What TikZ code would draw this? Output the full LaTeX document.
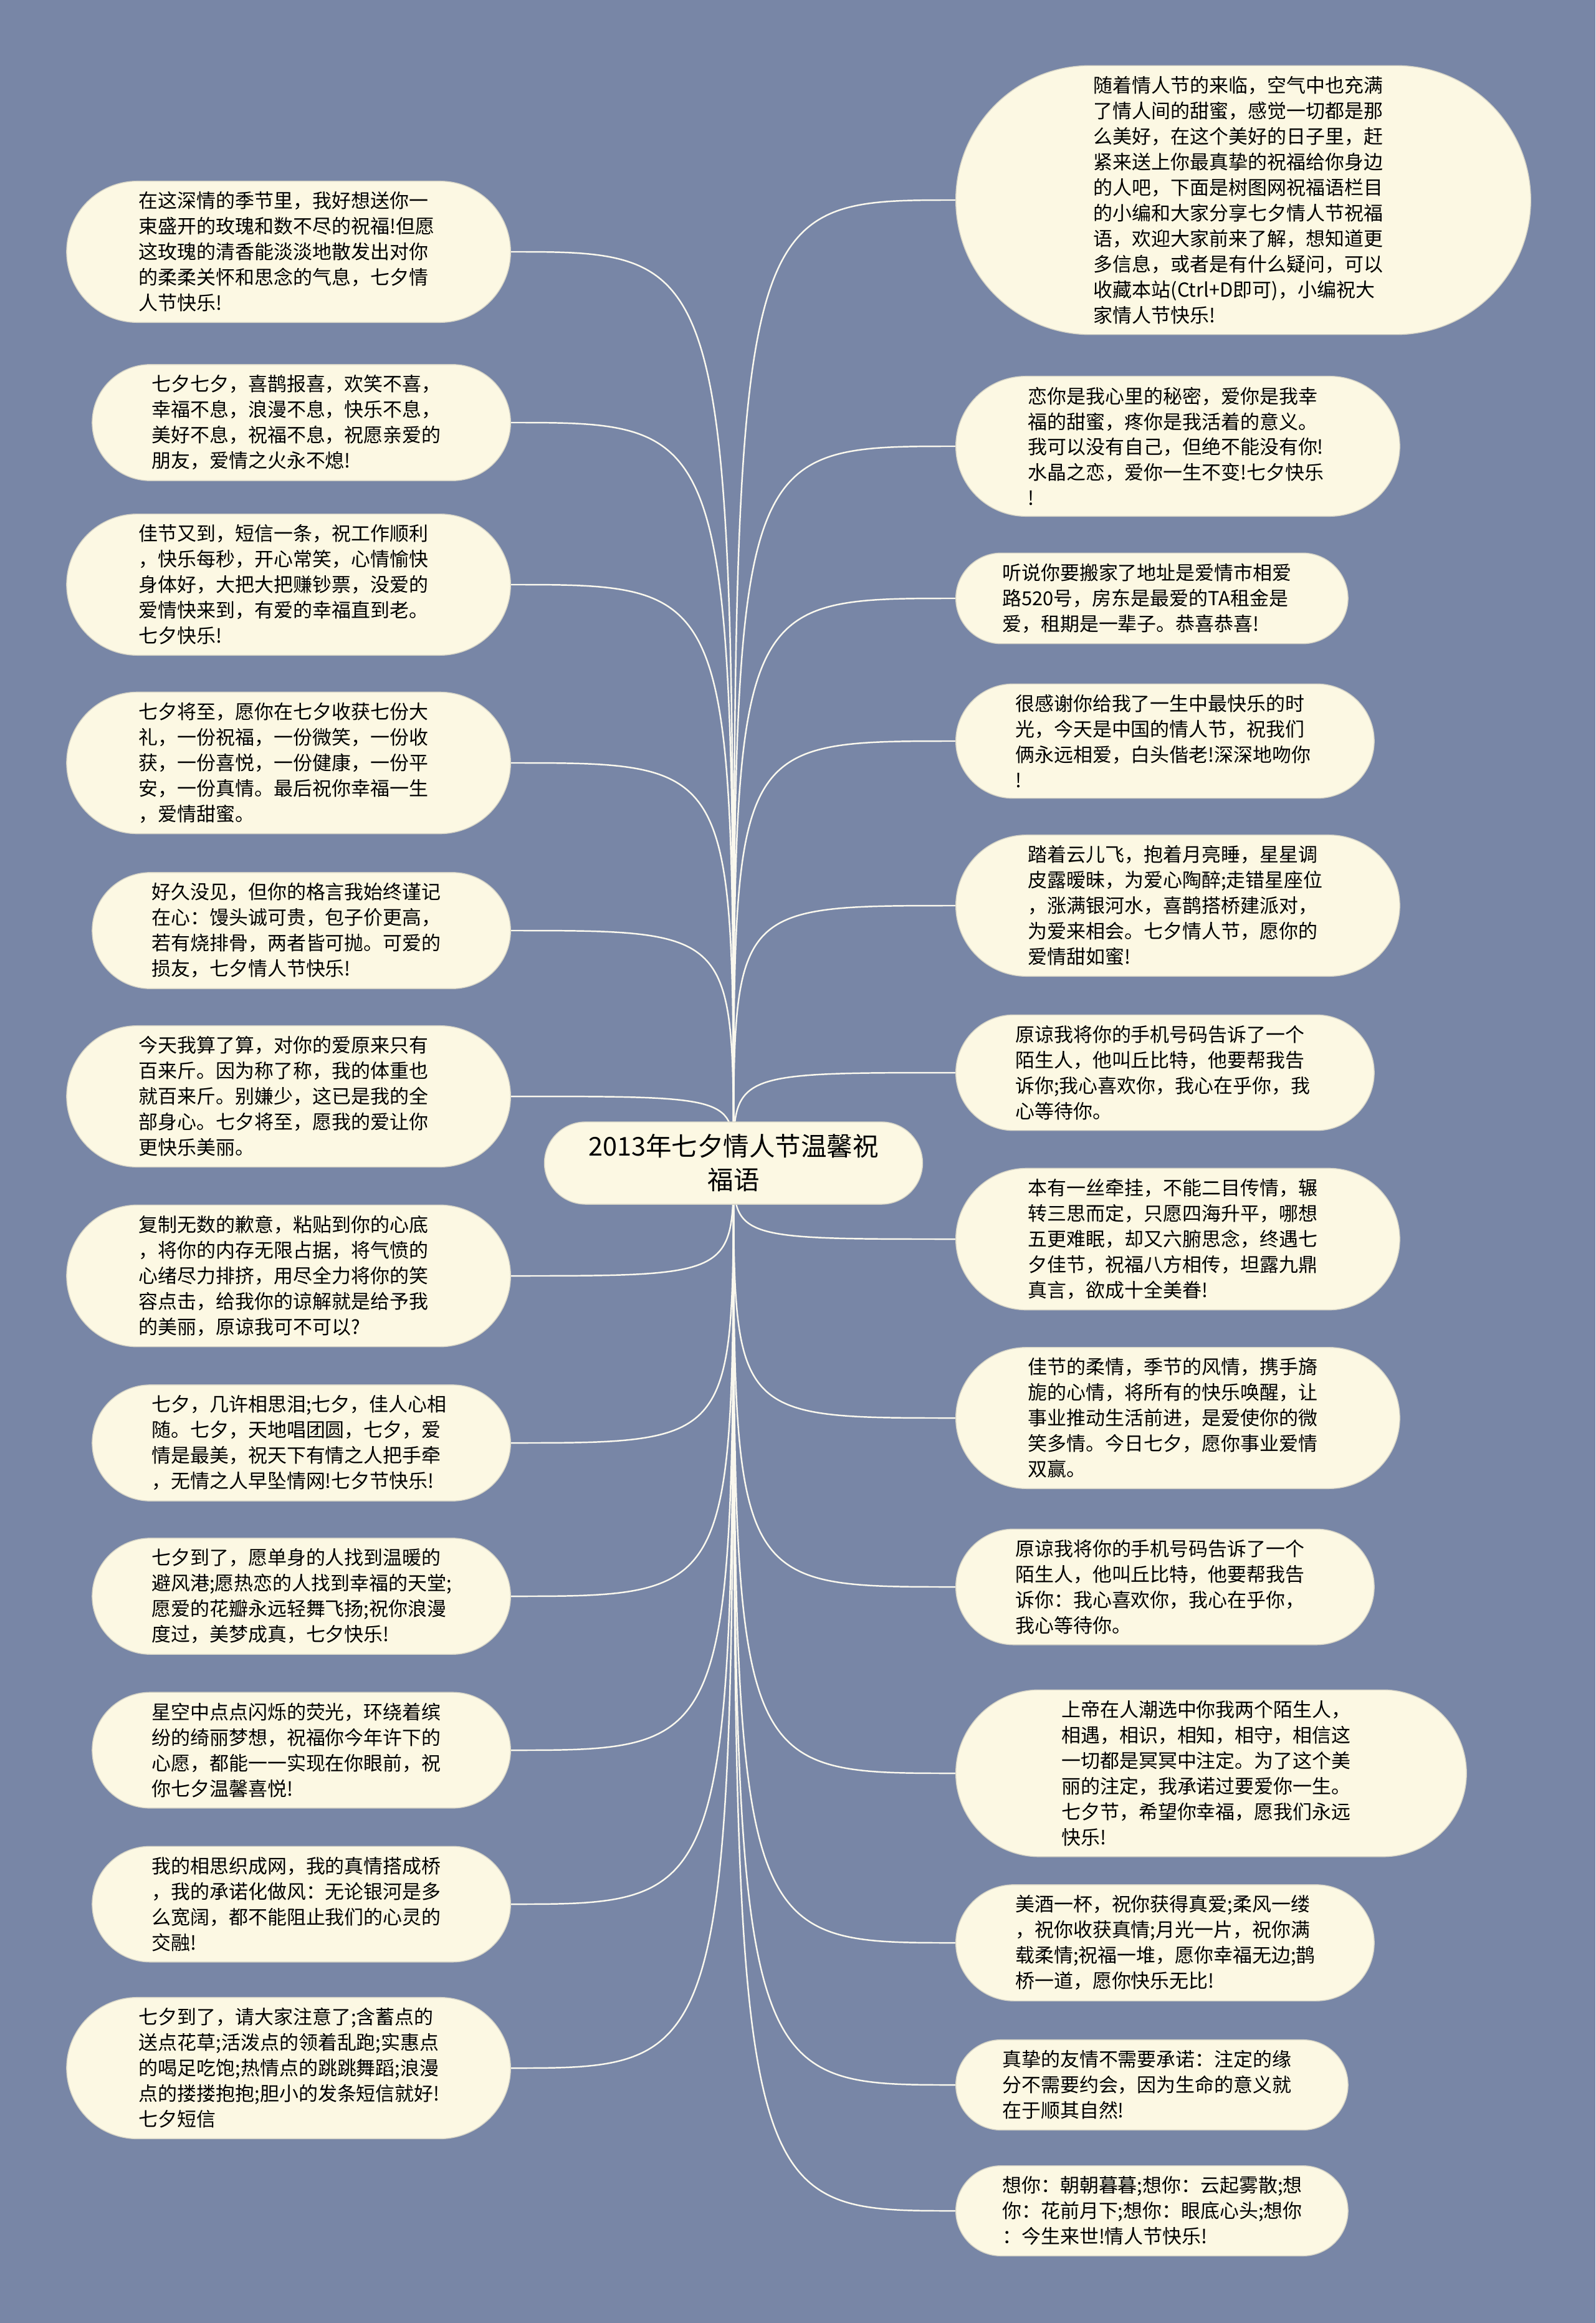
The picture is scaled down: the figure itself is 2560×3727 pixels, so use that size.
\documentclass[tikz,border=0pt]{standalone}
\usepackage{fontspec}
\setmainfont{Noto Sans CJK SC}
\usetikzlibrary{shapes.misc,backgrounds}
\definecolor{bgblue}{RGB}{120,134,166}
\definecolor{cardfill}{RGB}{252,248,227}
\definecolor{cardline}{RGB}{214,212,198}
\definecolor{linkline}{RGB}{250,248,238}

\begin{document}
\begin{tikzpicture}[x=0.01cm, y=-0.01cm,
    card/.style={rounded rectangle, fill=cardfill, draw=cardline, line width=0.4pt,
      text width=4.8cm, align=left, inner xsep=0.03cm, inner ysep=0.17cm,
      minimum width=#1, font=\fontsize{8.8pt}{11.65pt}\selectfont},
    leftcard/.style={card=#1, anchor=east},
    rightcard/.style={card=#1, anchor=west},
    titlecard/.style={rounded rectangle, fill=cardfill, draw=cardline, line width=0.4pt,
      text width=4.8cm, align=center, minimum width=6.3cm, minimum height=1.32cm,
      font=\fontsize{11.8pt}{15.4pt}\selectfont},
    link/.style={draw=linkline, line width=0.7pt}]
		\def\lx{820}   % right edge of the left column
		\def\rx{1533}  % left edge of the right column
		
		% --- centre ---
		\node[titlecard] (title) at (1177,1866) {2013年七夕情人节温馨祝\\福语};
		
		% --- left column ---
		\node[leftcard=7.18cm] (l1) at (\lx,404) {在这深情的季节里，我好想送你一\\束盛开的玫瑰和数不尽的祝福!但愿\\这玫瑰的清香能淡淡地散发出对你\\的柔柔关怀和思念的气息，七夕情\\人节快乐!};
		\node[leftcard=6.77cm] (l2) at (\lx,678) {七夕七夕，喜鹊报喜，欢笑不喜，\\幸福不息，浪漫不息，快乐不息，\\美好不息，祝福不息，祝愿亲爱的\\朋友，爱情之火永不熄!};
		\node[leftcard=7.18cm] (l3) at (\lx,938) {佳节又到，短信一条，祝工作顺利\\，快乐每秒，开心常笑，心情愉快\\身体好，大把大把赚钞票，没爱的\\爱情快来到，有爱的幸福直到老。\\七夕快乐!};
		\node[leftcard=7.18cm] (l4) at (\lx,1224) {七夕将至，愿你在七夕收获七份大\\礼，一份祝福，一份微笑，一份收\\获，一份喜悦，一份健康，一份平\\安，一份真情。最后祝你幸福一生\\，爱情甜蜜。};
		\node[leftcard=6.77cm] (l5) at (\lx,1493) {好久没见，但你的格言我始终谨记\\在心：馒头诚可贵，包子价更高，\\若有烧排骨，两者皆可抛。可爱的\\损友，七夕情人节快乐!};
		\node[leftcard=7.18cm] (l6) at (\lx,1759) {今天我算了算，对你的爱原来只有\\百来斤。因为称了称，我的体重也\\就百来斤。别嫌少，这已是我的全\\部身心。七夕将至，愿我的爱让你\\更快乐美丽。};
		\node[leftcard=7.18cm] (l7) at (\lx,2047) {复制无数的歉意，粘贴到你的心底\\，将你的内存无限占据，将气愤的\\心绪尽力排挤，用尽全力将你的笑\\容点击，给我你的谅解就是给予我\\的美丽，原谅我可不可以?};
		\node[leftcard=6.77cm] (l8) at (\lx,2315) {七夕，几许相思泪;七夕，佳人心相\\随。七夕，天地唱团圆，七夕，爱\\情是最美，祝天下有情之人把手牵\\，无情之人早坠情网!七夕节快乐!};
		\node[leftcard=6.77cm] (l9) at (\lx,2561) {七夕到了，愿单身的人找到温暖的\\避风港;愿热恋的人找到幸福的天堂;\\愿爱的花瓣永远轻舞飞扬;祝你浪漫\\度过，美梦成真，七夕快乐!};
		\node[leftcard=6.77cm] (l10) at (\lx,2808) {星空中点点闪烁的荧光，环绕着缤\\纷的绮丽梦想，祝福你今年许下的\\心愿，都能一一实现在你眼前，祝\\你七夕温馨喜悦!};
		\node[leftcard=6.77cm] (l11) at (\lx,3055) {我的相思织成网，我的真情搭成桥\\，我的承诺化做风：无论银河是多\\么宽阔，都不能阻止我们的心灵的\\交融!};
		\node[leftcard=7.18cm] (l12) at (\lx,3318) {七夕到了，请大家注意了;含蓄点的\\送点花草;活泼点的领着乱跑;实惠点\\的喝足吃饱;热情点的跳跳舞蹈;浪漫\\点的搂搂抱抱;胆小的发条短信就好!\\七夕短信};
		
		% --- right column ---
		\node[rightcard=9.28cm] (r1) at (\rx,321) {随着情人节的来临，空气中也充满\\了情人间的甜蜜，感觉一切都是那\\么美好，在这个美好的日子里，赶\\紧来送上你最真挚的祝福给你身边\\的人吧，下面是树图网祝福语栏目\\的小编和大家分享七夕情人节祝福\\语，欢迎大家前来了解，想知道更\\多信息，或者是有什么疑问，可以\\收藏本站(Ctrl+D即可)，小编祝大\\家情人节快乐!};
		\node[rightcard=7.18cm] (r2) at (\rx,716) {恋你是我心里的秘密，爱你是我幸\\福的甜蜜，疼你是我活着的意义。\\我可以没有自己，但绝不能没有你!\\水晶之恋，爱你一生不变!七夕快乐\\!};
		\node[rightcard=6.35cm] (r3) at (\rx,960) {听说你要搬家了地址是爱情市相爱\\路520号，房东是最爱的TA租金是\\爱，租期是一辈子。恭喜恭喜!};
		\node[rightcard=6.77cm] (r4) at (\rx,1189) {很感谢你给我了一生中最快乐的时\\光，今天是中国的情人节，祝我们\\俩永远相爱，白头偕老!深深地吻你\\!};
		\node[rightcard=7.18cm] (r5) at (\rx,1453) {踏着云儿飞，抱着月亮睡，星星调\\皮露暧昧，为爱心陶醉;走错星座位\\，涨满银河水，喜鹊搭桥建派对，\\为爱来相会。七夕情人节，愿你的\\爱情甜如蜜!};
		\node[rightcard=6.77cm] (r6) at (\rx,1721) {原谅我将你的手机号码告诉了一个\\陌生人，他叫丘比特，他要帮我告\\诉你;我心喜欢你，我心在乎你，我\\心等待你。};
		\node[rightcard=7.18cm] (r7) at (\rx,1988) {本有一丝牵挂，不能二目传情，辗\\转三思而定，只愿四海升平，哪想\\五更难眠，却又六腑思念，终遇七\\夕佳节，祝福八方相传，坦露九鼎\\真言，欲成十全美眷!};
		\node[rightcard=7.18cm] (r8) at (\rx,2275) {佳节的柔情，季节的风情，携手旖\\旎的心情，将所有的快乐唤醒，让\\事业推动生活前进，是爱使你的微\\笑多情。今日七夕，愿你事业爱情\\双赢。};
		\node[rightcard=6.77cm] (r9) at (\rx,2546) {原谅我将你的手机号码告诉了一个\\陌生人，他叫丘比特，他要帮我告\\诉你：我心喜欢你，我心在乎你，\\我心等待你。};
		\node[rightcard=8.25cm] (r10) at (\rx,2845) {上帝在人潮选中你我两个陌生人，\\相遇，相识，相知，相守，相信这\\一切都是冥冥中注定。为了这个美\\丽的注定，我承诺过要爱你一生。\\七夕节，希望你幸福，愿我们永远\\快乐!};
		\node[rightcard=6.77cm] (r11) at (\rx,3117) {美酒一杯，祝你获得真爱;柔风一缕\\，祝你收获真情;月光一片，祝你满\\载柔情;祝福一堆，愿你幸福无边;鹊\\桥一道，愿你快乐无比!};
		\node[rightcard=6.35cm] (r12) at (\rx,3345) {真挚的友情不需要承诺：注定的缘\\分不需要约会，因为生命的意义就\\在于顺其自然!};
		\node[rightcard=6.35cm] (r13) at (\rx,3547) {想你：朝朝暮暮;想你：云起雾散;想\\你：花前月下;想你：眼底心头;想你\\：今生来世!情人节快乐!};
		
		% --- background and connectors ---
		\begin{pgfonlayer}{background}
			\fill[bgblue] (0,0) rectangle (2560,3727);
			\foreach \i in {1,...,12}
				\draw[link] (title.center) .. controls (title.center |- l\i.east) .. (l\i.east);
			\foreach \i in {1,...,13}
				\draw[link] (title.center) .. controls (title.center |- r\i.west) .. (r\i.west);
		\end{pgfonlayer}
		
	\end{tikzpicture}
\end{document}
